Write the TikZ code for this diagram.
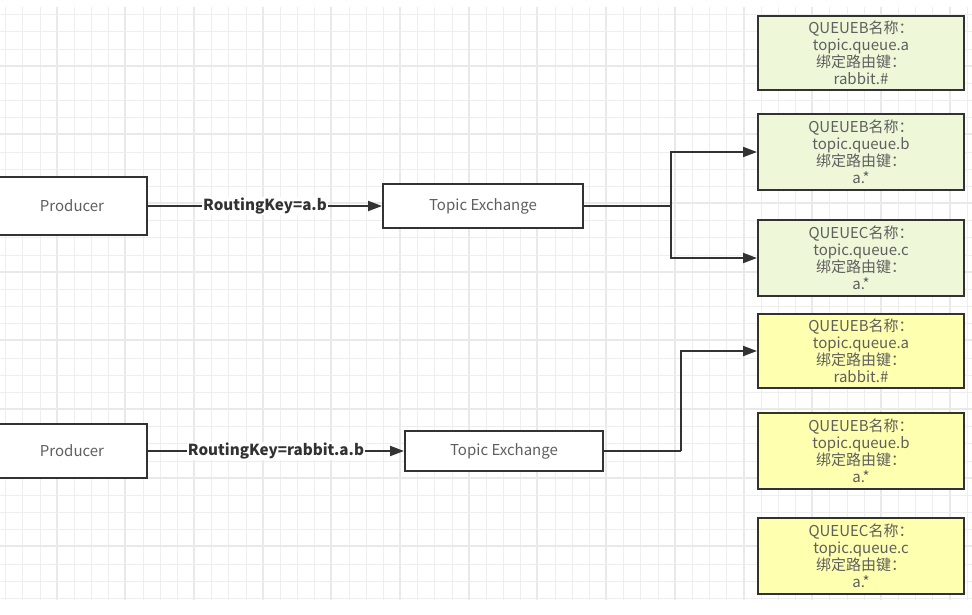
\documentclass[tikz,border=0pt]{standalone}
\usepackage{fontspec}
\setmainfont{Noto Sans CJK SC}
\usepackage{tikz}
\usetikzlibrary{arrows.meta}
\usepackage{xcolor}
\definecolor{gridminor}{RGB}{238,238,238}
\definecolor{gridmajor}{RGB}{233,233,233}
\definecolor{boxline}{RGB}{50,50,50}
\definecolor{txtgray}{RGB}{95,95,95}
\definecolor{queuegreen}{RGB}{238,248,217}
\definecolor{queueyellow}{RGB}{255,255,176}

\begin{document}
\begin{tikzpicture}[x=1pt,y=-1pt,
		box/.style={draw=boxline,line width=2pt,fill=white,text=txtgray,inner sep=0pt,
			font=\fontsize{15}{17}\selectfont},
		queue/.style={box,minimum width=206pt,minimum height=76pt,align=center,
			font=\fontsize{15}{17}\selectfont},
		keylabel/.style={fill=white,inner sep=1pt,text=boxline,font=\bfseries\fontsize{15.2}{17}\selectfont},
		arr/.style={draw=boxline,line width=2pt,-{Triangle[length=14pt,width=10pt]}},
		link/.style={draw=boxline,line width=2pt}]
					\useasboundingbox[fill=white] (0,0) rectangle (972,614);
					% grid
					\foreach \i in {0,...,56}{
						\pgfmathsetmacro{\gx}{round(5.2+\i*17.17)}
						\pgfmathtruncatemacro{\maj}{mod(\i,4)==3}
						\ifnum\maj=1
							\draw[gridmajor,line width=2pt] (\gx,7) -- (\gx,600);
						\else
							\draw[gridminor,line width=1pt] (\gx+0.5,7) -- (\gx+0.5,600);
						\fi
					}
					\foreach \j in {-3,...,31}{
						\pgfmathsetmacro{\gy}{round(65.7+\j*17.17)}
						\pgfmathtruncatemacro{\maj}{mod(\j+4,4)==0}
						\ifnum\maj=1
							\draw[gridmajor,line width=2pt] (0,\gy) -- (972,\gy);
						\else
							\draw[gridminor,line width=1pt] (0,\gy+0.5) -- (972,\gy+0.5);
						\fi
					}
					
					% upper flow
					\node[box,minimum width=150pt,minimum height=58pt] (prodA) at (72,206) {Producer};
					\node[box,minimum width=200pt,minimum height=44pt] (exA) at (483,206) {Topic Exchange};
					\node[queue,fill=queuegreen,minimum height=74pt] (qA1) at (861,53) {QUEUEB名称：\\topic.queue.a\\绑定路由键：\\rabbit.\#};
					\node[queue,fill=queuegreen] (qA2) at (861,152) {QUEUEB名称：\\topic.queue.b\\绑定路由键：\\a.*};
					\node[queue,fill=queuegreen] (qA3) at (861,258) {QUEUEC名称：\\topic.queue.c\\绑定路由键：\\a.*};
					\coordinate (splitA) at (671,206);
					\draw[arr] (prodA.east) -- node[keylabel] (keyA) {RoutingKey=a.b} (exA.west);
					\draw[link] (exA.east) -- (splitA);
					\draw[arr] (splitA) |- (qA2.west);
					\draw[arr] (splitA) |- (qA3.west);
					
					% lower flow
					\node[box,minimum width=150pt,minimum height=54pt] (prodB) at (72,451) {Producer};
					\node[box,minimum width=198pt,minimum height=40pt] (exB) at (504,451) {Topic Exchange};
					\node[queue,fill=queueyellow,minimum height=74pt] (qB1) at (861,351) {QUEUEB名称：\\topic.queue.a\\绑定路由键：\\rabbit.\#};
					\node[queue,fill=queueyellow] (qB2) at (861,451) {QUEUEB名称：\\topic.queue.b\\绑定路由键：\\a.*};
					\node[queue,fill=queueyellow] (qB3) at (861,556) {QUEUEC名称：\\topic.queue.c\\绑定路由键：\\a.*};
					\coordinate (splitB) at (681,451);
					\draw[arr] (prodB.east) -- node[keylabel] (keyB) {RoutingKey=rabbit.a.b} (exB.west);
					\draw[link] (exB.east) -- (splitB);
					\draw[arr] (splitB) |- (qB1.west);
					
				\end{tikzpicture}
\end{document}
